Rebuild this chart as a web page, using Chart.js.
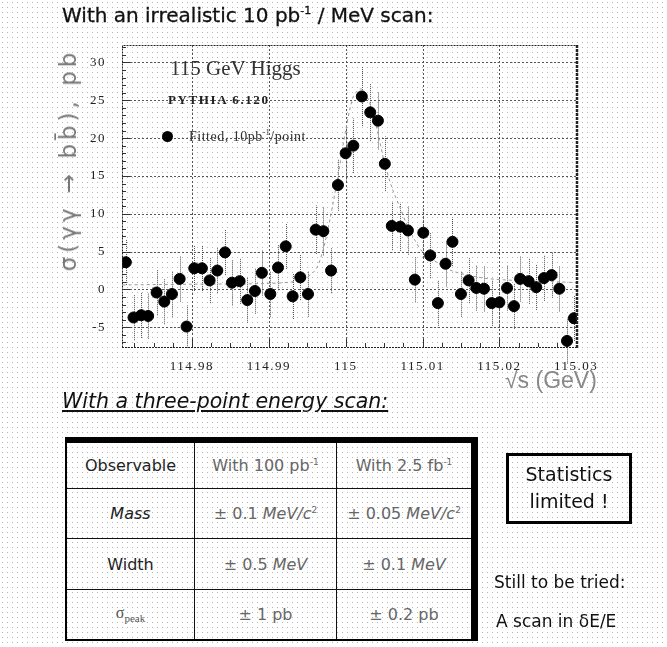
<!DOCTYPE html>
<html>
<head>
<meta charset="utf-8">
<script src="https://cdn.jsdelivr.net/npm/chart.js@4.4.0/dist/chart.umd.min.js"></script>
<style>
  html, body { margin: 0; padding: 0; }
  body {
    width: 667px; height: 647px; overflow: hidden; position: relative;
    background-color: #fff;
    background-image: radial-gradient(circle, #b4b4b4 0.6px, transparent 0.9px);
    background-size: 5px 5px;
    font-family: "DejaVu Sans", sans-serif;
  }
  .abs { position: absolute; white-space: nowrap; }
  #plot { position: absolute; left: 0; top: 0; }
  .serif { font-family: "Liberation Serif", serif; }
  table.res {
    position: absolute; left: 65px; top: 437px; width: 413px; height: 204px;
    border-collapse: collapse;
    border-top: 6px solid #000; border-right: 7px solid #000;
    border-left: 2px solid #000; border-bottom: 2px solid #000;
  }
  table.res td {
    border: 1.5px solid #111; text-align: center; font-size: 16px; color: #666;
    padding: 0;
  }
  table.res td.first { color: #222; }
  sup.s { font-size: 9px; }
</style>
</head>
<body>
<canvas id="plot" width="667" height="400"></canvas>

<div class="abs" style="left:62px; top:3px; font-size:20px; color:#111; -webkit-text-stroke:0.3px #111;">With an irrealistic 10 pb<sup style="font-size:11px">-1</sup> / MeV scan:</div>

<div class="abs" style="left:68px; top:160px; transform:translate(-50%,-50%) rotate(-90deg); font-size:23px; letter-spacing:4px; color:#777;">σ(γγ → bb̄), pb</div>

<div class="abs serif" style="left:170px; top:56px; font-size:21px; color:#333;">115 GeV Higgs</div>
<div class="abs serif" style="left:168px; top:92px; font-size:13px; font-weight:bold; color:#222; letter-spacing:1.6px;">PYTHIA 6.120</div>
<div class="abs" style="left:162px; top:131px; width:11px; height:11px; border-radius:50%; background:#000;"></div>
<div class="abs serif" style="left:189px; top:128px; font-size:14px; color:#333; letter-spacing:0.5px;">Fitted, 10pb<sup style="font-size:8px">-1</sup>/point</div>

<div class="abs" style="left:505px; top:367px; font-size:23px; color:#888; font-family:'Liberation Sans',sans-serif;">√s (GeV)</div>

<div class="abs" style="left:62px; top:389px; font-size:20.5px; color:#111; text-decoration:underline; font-style:italic;">With a three-point energy scan:</div>

<table class="res">
  <tr style="height:48px"><td class="first" style="width:127px">Observable</td><td style="width:141px">With 100 pb<sup class="s">-1</sup></td><td>With 2.5 fb<sup class="s">-1</sup></td></tr>
  <tr style="height:50px"><td class="first"><i>Mass</i></td><td>± 0.1 <i>MeV/c</i><sup class="s">2</sup></td><td>± 0.05 <i>MeV/c</i><sup class="s">2</sup></td></tr>
  <tr style="height:50px"><td class="first">Width</td><td>± 0.5 <i>MeV</i></td><td>± 0.1 <i>MeV</i></td></tr>
  <tr style="height:50px"><td class="first serif" style="font-size:16px; color:#555;">σ<sub style="font-size:11px">peak</sub></td><td>± 1 pb</td><td>± 0.2 pb</td></tr>
</table>

<div class="abs" style="left:506px; top:453px; width:120px; height:60px; border:3px solid #000; text-align:center; font-size:19px; line-height:27px; color:#111; padding-top:5px; box-sizing:content-box;">Statistics<br>limited !</div>

<div class="abs" style="left:494px; top:572px; font-size:17px; color:#111;">Still to be tried:</div>
<div class="abs" style="left:496px; top:611px; font-size:17px; color:#111;">A scan in δE/E</div>

<script>
// scan points (GeV) and fitted cross sections (pb)
var energies = [114.9714, 114.9724, 114.9734, 114.9743, 114.9754, 114.9764, 114.9774, 114.9784, 114.9793, 114.9803,
  114.9813, 114.9823, 114.9833, 114.9843, 114.9852, 114.9862, 114.9872, 114.9882, 114.9891, 114.9902,
  114.9912, 114.9922, 114.9931, 114.9941, 114.9951, 114.9961, 114.9971, 114.9981, 114.9990, 115.0000,
  115.0010, 115.0021, 115.0032, 115.0042, 115.0051, 115.0060, 115.0071, 115.0081, 115.0090, 115.0101,
  115.0110, 115.0120, 115.0130, 115.0139, 115.0150, 115.0160, 115.0170, 115.0180, 115.0190, 115.0200,
  115.0210, 115.0219, 115.0227, 115.0238, 115.0248, 115.0258, 115.0268, 115.0278, 115.0288, 115.0297];
var xsec = [3.6, -3.7, -3.4, -3.5, -0.4, -1.6, -0.6, 1.4, -4.9, 2.8,
  2.8, 1.2, 2.5, 4.9, 0.9, 1.1, -1.4, -0.2, 2.2, -0.6,
  2.9, 5.7, -0.9, 1.6, -0.6, 7.9, 7.7, 2.5, 13.8, 18.0,
  19.0, 25.5, 23.4, 22.3, 16.6, 8.4, 8.3, 7.8, 1.3, 7.5,
  4.5, -1.8, 3.4, 6.3, -0.6, 1.2, 0.2, 0.1, -1.8, -1.7,
  0.2, -2.2, 1.4, 1.1, 0.3, 1.5, 1.9, 0.1, -6.8, -3.8];
var errs = [3.0, 3.0, 3.0, 3.0, 3.0, 3.0, 3.0, 3.0, 2.8, 3.0,
  3.0, 3.0, 3.0, 3.0, 3.0, 3.0, 3.0, 3.0, 3.0, 3.0,
  3.0, 3.0, 3.0, 3.0, 3.0, 3.2, 3.2, 3.0, 3.4, 3.6,
  3.6, 3.9, 3.8, 3.8, 3.6, 3.2, 3.2, 3.2, 3.0, 3.2,
  3.0, 3.0, 3.0, 3.2, 3.0, 3.0, 3.0, 3.0, 3.0, 3.0,
  3.0, 3.0, 3.0, 3.0, 3.0, 3.0, 3.0, 3.0, 3.0, 3.0];

// expected line shape (dashed)
var curveE = [114.971, 114.980, 114.990, 114.994, 114.996, 114.997, 114.998, 114.999, 115.000, 115.001,
  115.002, 115.003, 115.004, 115.005, 115.006, 115.007, 115.008, 115.009, 115.010, 115.012,
  115.014, 115.018, 115.022, 115.028, 115.030];
var curveXs = [0.6, 0.7, 0.8, 1.2, 2.5, 5.0, 9.5, 15.0, 21.0, 25.5,
  26.5, 25.0, 21.5, 17.0, 13.5, 11.0, 8.5, 6.5, 5.0, 3.5,
  2.4, 1.5, 1.2, 1.0, 0.9];

var xTicks = [114.98, 114.99, 115, 115.01, 115.02, 115.03];
var xTickLabels = ['114.98', '114.99', '115', '115.01', '115.02', '115.03'];
var yTicks = [-5, 0, 5, 10, 15, 20, 25, 30];

var points = energies.map(function (e, i) { return { x: e, y: xsec[i] }; });
var curve = curveE.map(function (e, i) { return { x: e, y: curveXs[i] }; });

var spacing = {
  id: 'spacing',
  beforeDraw: function (chart) { chart.ctx.letterSpacing = '1.5px'; }
};

// dotted grid at the major ticks, plus small minor ticks on the axes
var gridLines = {
  id: 'gridLines',
  beforeDatasetsDraw: function (chart) {
    var ctx = chart.ctx, a = chart.chartArea, xs = chart.scales.x, ys = chart.scales.y;
    ctx.save();
    ctx.strokeStyle = '#555';
    ctx.lineWidth = 1;
    ctx.setLineDash([2, 2]);
    ctx.beginPath();
    xTicks.forEach(function (v) {
      var px = Math.round(xs.getPixelForValue(v)) + 0.5;
      ctx.moveTo(px, a.top); ctx.lineTo(px, a.bottom);
    });
    yTicks.forEach(function (v) {
      var py = Math.round(ys.getPixelForValue(v)) + 0.5;
      ctx.moveTo(a.left, py); ctx.lineTo(a.right, py);
    });
    ctx.stroke();
    ctx.setLineDash([]);
    ctx.strokeStyle = '#333';
    ctx.beginPath();
    for (var k = -4; k <= 24; k++) {
      var px2 = Math.round(xs.getPixelForValue(114.98 + k * 0.0025)) + 0.5;
      if (px2 <= a.left + 1 || px2 >= a.right - 1) continue;
      ctx.moveTo(px2, a.bottom); ctx.lineTo(px2, a.bottom - (k % 4 === 0 ? 8 : 4));
    }
    for (var j = -7; j <= 32; j++) {
      var py2 = Math.round(ys.getPixelForValue(j)) + 0.5;
      if (py2 <= a.top + 1 || py2 >= a.bottom - 1) continue;
      ctx.moveTo(a.left, py2); ctx.lineTo(a.left + (j % 5 === 0 ? 8 : 4), py2);
    }
    ctx.stroke();
    ctx.restore();
  }
};

var errorBars = {
  id: 'errorBars',
  beforeDatasetsDraw: function (chart) {
    var ctx = chart.ctx, xs = chart.scales.x, ys = chart.scales.y;
    ctx.save();
    ctx.strokeStyle = '#555';
    ctx.lineWidth = 1;
    ctx.setLineDash([1, 1]);
    for (var i = 0; i < energies.length; i++) {
      var px = Math.round(xs.getPixelForValue(energies[i])) + 0.5;
      ctx.beginPath();
      ctx.moveTo(px, ys.getPixelForValue(xsec[i] - errs[i]));
      ctx.lineTo(px, ys.getPixelForValue(xsec[i] + errs[i]));
      ctx.stroke();
    }
    ctx.restore();
  }
};

var frame = {
  id: 'frame',
  afterDraw: function (chart) {
    var a = chart.chartArea, ctx = chart.ctx;
    ctx.save();
    ctx.strokeStyle = '#222';
    ctx.lineWidth = 1;
    ctx.setLineDash([2, 1]);
    ctx.beginPath();
    ctx.moveTo(a.left + 0.5, a.bottom + 0.5);
    ctx.lineTo(a.left + 0.5, a.top + 0.5);
    ctx.lineTo(a.right, a.top + 0.5);
    ctx.moveTo(a.left, a.bottom + 0.5);
    ctx.lineTo(a.right, a.bottom + 0.5);
    ctx.stroke();
    ctx.lineWidth = 2.5;
    ctx.setLineDash([3, 1]);
    ctx.beginPath();
    ctx.moveTo(a.right, a.top);
    ctx.lineTo(a.right, a.bottom + 1);
    ctx.stroke();
    ctx.restore();
  }
};

new Chart(document.getElementById('plot'), {
  type: 'scatter',
  data: {
    datasets: [{
      label: 'expected',
      data: curve,
      showLine: true,
      borderColor: '#999',
      borderWidth: 1,
      borderDash: [3, 3],
      pointRadius: 0,
      tension: 0.3,
      order: 2
    }, {
      label: 'Fitted, 10pb-1/point',
      data: points,
      backgroundColor: '#000',
      borderColor: '#000',
      pointRadius: 5.5,
      order: 1
    }]
  },
  options: {
    responsive: false,
    animation: false,
    layout: { padding: { left: 60, top: 45, right: 90, bottom: 0 } },
    plugins: { legend: { display: false }, tooltip: { enabled: false } },
    scales: {
      x: {
        type: 'linear',
        min: 114.9709,
        max: 115.0301,
        afterBuildTicks: function (s) { s.ticks = xTicks.map(function (v) { return { value: v }; }); },
        afterFit: function (s) { s.height = 53; },
        ticks: {
          padding: 12,
          color: '#222',
          font: { family: 'Liberation Serif', size: 13 },
          callback: function (v) { return xTickLabels[xTicks.indexOf(v)]; }
        },
        grid: { display: false, drawTicks: false },
        border: { display: false }
      },
      y: {
        min: -7.6,
        max: 32.3,
        afterBuildTicks: function (s) { s.ticks = yTicks.map(function (v) { return { value: v }; }); },
        afterFit: function (s) { s.width = 62; },
        ticks: {
          padding: 16,
          color: '#222',
          font: { family: 'Liberation Serif', size: 13 }
        },
        grid: { display: false, drawTicks: false },
        border: { display: false }
      }
    }
  },
  plugins: [spacing, gridLines, errorBars, frame]
});
</script>
</body>
</html>
